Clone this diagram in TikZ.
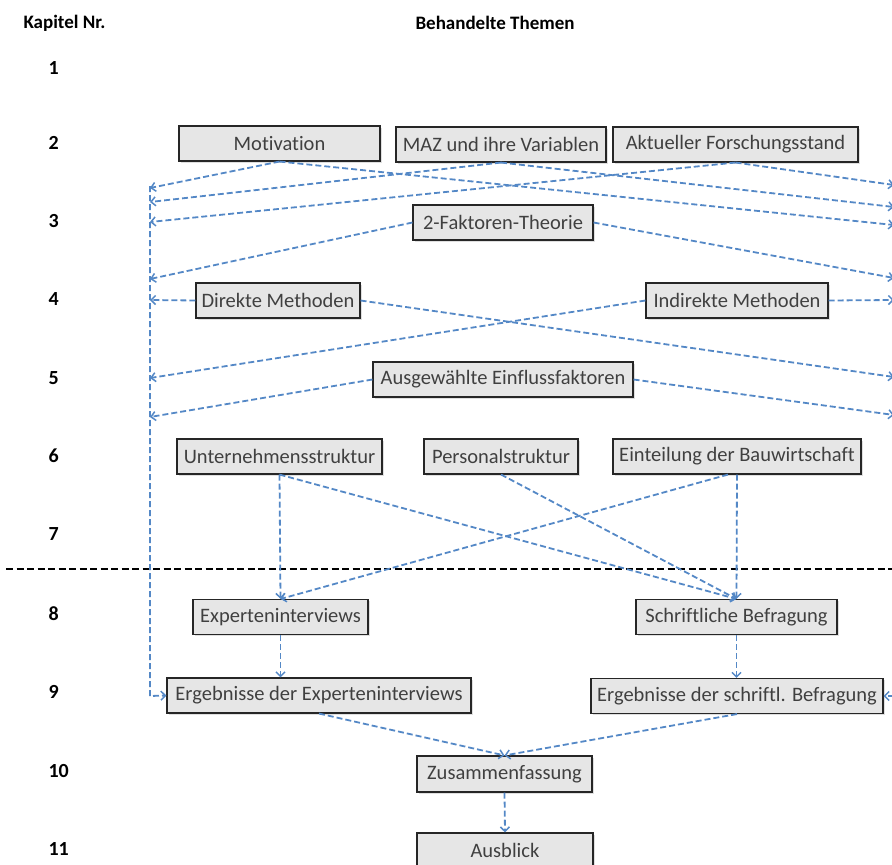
\documentclass[tikz,border=0pt]{standalone}
\usepackage{fontspec}
\setmainfont{Carlito}[Ligatures={NoCommon}]
\usetikzlibrary{arrows.meta,shadows}
\definecolor{linkblue}{RGB}{84,136,198}
\definecolor{boxfill}{RGB}{230,230,230}
\definecolor{boxtext}{RGB}{64,64,64}
\begin{document}
\begin{tikzpicture}[x=1pt,y=-1pt,
  topic/.style={draw=black!85, line width=1.1pt, fill=boxfill, text=boxtext,
    font=\fontsize{20.5}{24}\selectfont, inner sep=0pt, minimum height=35pt,
    drop shadow={shadow xshift=1.5pt,shadow yshift=-1.5pt,opacity=0.25}},
  chap/.style={anchor=west, font=\fontsize{20}{24}\selectfont\bfseries},
  head/.style={anchor=west, font=\fontsize{19}{23}\selectfont\bfseries},
  link/.style={draw=linkblue, line width=1.8pt, dash pattern=on 6pt off 3pt,
    -{Straight Barb[length=4.5pt,width=9pt,line width=1.5pt]}},
  divider/.style={draw=black, line width=1.8pt, dash pattern=on 7pt off 3.5pt}
]
\useasboundingbox (0,0) rectangle (892,865);

% column headers
\node[head] (hkap) at (20,23) {Kapitel Nr.};
\node[head] (hthem) at (412,23) {Behandelte Themen};

% chapter numbers
\foreach \n/\y in {1/68,2/143,3/221,4/299,5/378,6/456,7/534,8/614,9/692,10/771,11/849}
  \node[chap] (c\n) at (45,\y) {\n};

% topics
\node[topic, minimum width=201pt] (mot) at (279.5,143.5) {Motivation};
\node[topic, minimum width=210pt] (maz) at (501,144.5) {MAZ und ihre Variablen};
\node[topic, minimum width=245pt] (akt) at (735.5,144.5) {Aktueller Forschungsstand};
\node[topic, minimum width=180pt] (fak) at (503,222.5) {2-Faktoren-Theorie};
\node[topic, minimum width=164pt] (dir) at (278,300.5) {Direkte Methoden};
\node[topic, minimum width=182pt] (ind) at (737,300.5) {Indirekte Methoden};
\node[topic, minimum width=260pt] (ein1) at (503,379.5) {Ausgewählte Einflussfaktoren};
\node[topic, minimum width=205pt] (unt) at (279.5,456.5) {Unternehmensstruktur};
\node[topic, minimum width=154pt] (per) at (501,456.5) {Personalstruktur};
\node[topic, minimum width=248pt] (bau) at (737,456.5) {Einteilung der Bauwirtschaft};
\node[topic, minimum width=175pt] (exp) at (280.5,617) {Experteninterviews};
\node[topic, minimum width=201pt] (sch) at (736.5,617) {Schriftliche Befragung};
\node[topic, minimum width=304pt] (erx) at (319,695.5) {Ergebnisse der Experteninterviews};
\node[topic, minimum width=292pt] (ers) at (737,696) {Ergebnisse der schriftl. Befragung};
\node[topic, minimum width=175pt, minimum height=36pt] (zus) at (504.5,774) {Zusammenfassung};
\node[topic, minimum width=176pt] (aus) at (505,850.5) {Ausblick};

% boundary between theory and empirical part
\coordinate (dl) at (6,569);
\coordinate (dr) at (900,569);
\draw[divider] (dl) -- (dr);

% collecting lines on both sides
\coordinate (ltop) at (150,186);
\coordinate (lbot) at (150,696);
\coordinate (rtop) at (894,183);
\coordinate (rbot) at (894,696);
\draw[link] (ltop) -- (lbot) -- (erx.west);
\draw[link] (rtop) -- (rbot) -- (ers.east);

% entry points on the left line
\coordinate (l1) at (150,188);
\coordinate (l2) at (150,202);
\coordinate (l3) at (150,222);
\coordinate (l4) at (150,279);
\coordinate (l5) at (150,300);
\coordinate (l6) at (150,378);
\coordinate (l7) at (150,417);
% entry points on the right line
\coordinate (r1) at (894,185);
\coordinate (r2) at (894,207);
\coordinate (r3) at (894,225);
\coordinate (r4) at (894,278);
\coordinate (r5) at (894,300);
\coordinate (r6) at (894,377);
\coordinate (r7) at (894,415);

\draw[link] (mot.south) -- (l1);
\draw[link] (mot.south) -- (r3);
\draw[link] (maz.south) -- (l2);
\draw[link] (maz.south) -- (r2);
\draw[link] (akt.south) -- (l3);
\draw[link] (akt.south) -- (r1);
\draw[link] (fak.west) -- (l4);
\draw[link] (fak.east) -- (r4);
\draw[link] (dir.west) -- (l5);
\draw[link] (dir.east) -- (r6);
\draw[link] (ind.west) -- (l6);
\draw[link] (ind.east) -- (r5);
\draw[link] (ein1.west) -- (l7);
\draw[link] (ein1.east) -- (r7);

% empirical part
\draw[link] (unt.south) -- (exp.north);
\draw[link] (unt.south) -- (sch.north);
\draw[link] (per.south) -- (sch.north);
\draw[link] (bau.south) -- (sch.north);
\draw[link] ([xshift=-9pt]bau.south) -- (exp.north);
\draw[link] (exp.south) -- (erx.north -| exp.south);
\draw[link] (sch.south) -- (ers.north -| sch.south);
\draw[link] (erx.south) -- (zus.north);
\draw[link] (ers.south) -- (zus.north);
\draw[link] (zus.south) -- (aus.north);
\end{tikzpicture}
\end{document}
